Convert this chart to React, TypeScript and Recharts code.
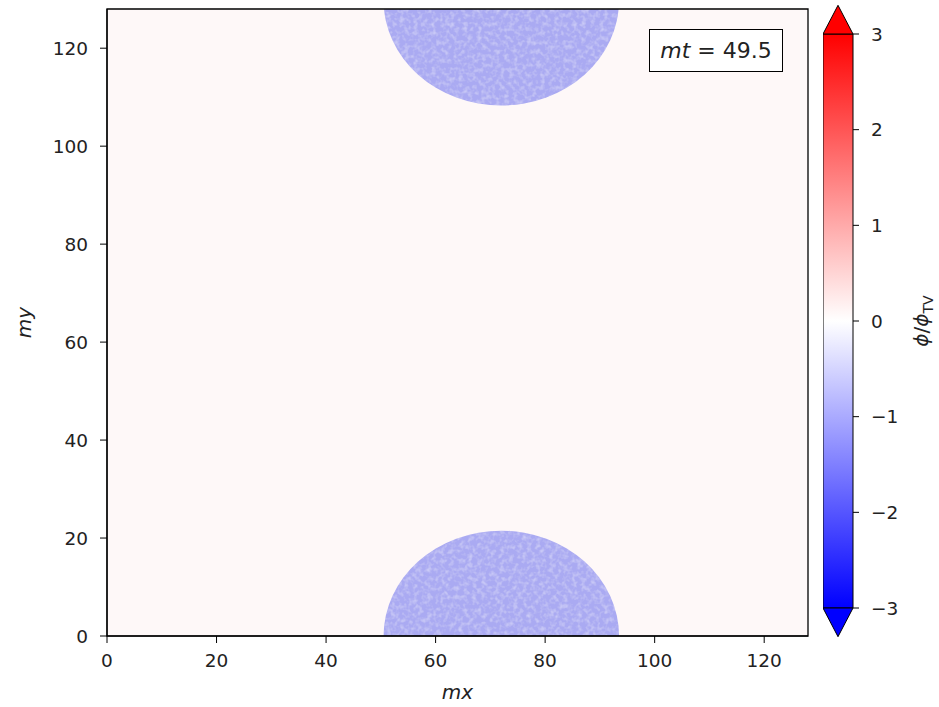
import React from "react";
import {
  ComposedChart,
  XAxis,
  YAxis,
  ReferenceArea,
  Scatter,
} from "recharts";

// ---- data ----
const fieldDomain: [number, number] = [0, 128];
const xTicks = [0, 20, 40, 60, 80, 100, 120];
const yTicks = [0, 20, 40, 60, 80, 100, 120];
const blobs = [
  { name: "top", mx: 72, my: 129.8, r: 21.5, phi: -1 },
  { name: "bottom", mx: 72, my: 0, r: 21.5, phi: -1 },
];
const phiDomain: [number, number] = [-3, 3];
const colorTicks = [-3, -2, -1, 0, 1, 2, 3];
const extendFrac = 0.05;
const timeLabel = "49.5";

// bwr colormap
function bwr(v: number): string {
  const t = Math.max(0, Math.min(1, (v - phiDomain[0]) / (phiDomain[1] - phiDomain[0])));
  let r: number, g: number, b: number;
  if (t < 0.5) {
    const s = t / 0.5;
    r = s; g = s; b = 1;
  } else {
    const s = (t - 0.5) / 0.5;
    r = 1; g = 1 - s; b = 1 - s;
  }
  const h = (x: number) => Math.round(x * 255).toString(16).padStart(2, "0");
  return "#" + h(r) + h(g) + h(b);
}

const FONT = "'DejaVu Sans', sans-serif";
const TXT = "#222";
const BG = "#fef8f8";
const BLOB = "#aaaaf2";

const bgShape = (props: any) => {
  const { x, y, width, height } = props;
  return (
    <g>
      <defs>
        <clipPath id="plotClip">
          <rect x={x} y={y} width={width} height={height} />
        </clipPath>
      </defs>
      <rect x={x} y={y} width={width} height={height} fill={BG} />
    </g>
  );
};

const ellipseShape = (fill: string) => (props: any) => {
  const { x, y, width, height } = props;
  return (
    <g clipPath="url(#plotClip)">
      <ellipse
        cx={x + width / 2}
        cy={y + height / 2}
        rx={Math.abs(width) / 2}
        ry={Math.abs(height) / 2}
        fill={fill}
        filter="url(#grain)"
      />
    </g>
  );
};

const triShape = (fill: string, up: boolean) => (props: any) => {
  const { x, y, width, height } = props;
  const pts = up
    ? `${x},${y + height} ${x + width / 2},${y} ${x + width},${y + height}`
    : `${x},${y} ${x + width / 2},${y + height} ${x + width},${y}`;
  return <polygon points={pts} fill={fill} stroke="#000" strokeWidth={1} />;
};

const cbLabel = (props: any) => {
  const vb = props.viewBox || {};
  const cx = (vb.x ?? 0) + 75;
  const cy = (vb.y ?? 0) + (vb.height ?? 0) / 2;
  return (
    <text
      x={cx}
      y={cy}
      transform={`rotate(-90, ${cx}, ${cy})`}
      textAnchor="middle"
      fontFamily={FONT}
      fontSize={20}
      fill={TXT}
    >
      <tspan fontStyle="italic">ϕ</tspan>
      <tspan>/</tspan>
      <tspan fontStyle="italic">ϕ</tspan>
      <tspan fontSize={14} dy={5}>TV</tspan>
    </text>
  );
};

export default function App() {
  const tickStyle = { fontFamily: FONT, fontSize: 18.5, fill: TXT };
  return (
    <div style={{ position: "absolute", left: 0, top: 0, width: 939, height: 707, background: "#fff" }}>
      <svg width={0} height={0} style={{ position: "absolute" }}>
        <defs>
          <filter id="grain" x="0" y="0" width="100%" height="100%">
            <feTurbulence type="fractalNoise" baseFrequency="0.22" numOctaves={2} seed={3} result="n" />
            <feColorMatrix
              in="n"
              type="matrix"
              values="0 0 0 0 1  0 0 0 0 1  0 0 0 0 1  0 0 0 0.7 -0.3"
              result="w"
            />
            <feComposite in="w" in2="SourceGraphic" operator="in" result="wc" />
            <feMerge>
              <feMergeNode in="SourceGraphic" />
              <feMergeNode in="wc" />
            </feMerge>
          </filter>
        </defs>
      </svg>
      <div style={{ position: "absolute", left: 0, top: 0 }}>
        <ComposedChart
          width={939}
          height={707}
          data={blobs}
          margin={{ top: 9, right: 131, bottom: 0, left: 0 }}
        >
          <XAxis
            dataKey="mx"
            type="number"
            domain={fieldDomain}
            ticks={xTicks}
            allowDataOverflow
            height={71}
            tickSize={7}
            tickMargin={11}
            tick={tickStyle}
            axisLine={{ stroke: "#000", strokeWidth: 1.2 }}
            tickLine={{ stroke: "#000" }}
            label={{
              value: "mx",
              position: "insideBottom",
              offset: 8,
              style: { fontFamily: FONT, fontSize: 20, fontStyle: "italic", fill: TXT },
            }}
          />
          <YAxis
            dataKey="my"
            type="number"
            domain={fieldDomain}
            ticks={yTicks}
            allowDataOverflow
            width={107}
            tickSize={7}
            tickMargin={12}
            tick={tickStyle}
            axisLine={{ stroke: "#000", strokeWidth: 1.2 }}
            tickLine={{ stroke: "#000" }}
            label={{
              value: "my",
              angle: -90,
              position: "insideLeft",
              offset: 24,
              style: { fontFamily: FONT, fontSize: 20, fontStyle: "italic", fill: TXT, textAnchor: "middle" },
            }}
          />
          <ReferenceArea
            x1={fieldDomain[0]}
            x2={fieldDomain[1]}
            y1={fieldDomain[0]}
            y2={fieldDomain[1]}
            ifOverflow="visible"
            shape={bgShape}
          />
          {blobs.map((b) => (
            <ReferenceArea
              key={b.name}
              x1={b.mx - b.r}
              x2={b.mx + b.r}
              y1={b.my - b.r}
              y2={b.my + b.r}
              ifOverflow="visible"
              shape={ellipseShape(BLOB)}
            />
          ))}
          <ReferenceArea
            x1={fieldDomain[0]}
            x2={fieldDomain[1]}
            y1={fieldDomain[0]}
            y2={fieldDomain[1]}
            fill="none"
            stroke="#000"
            strokeWidth={1.3}
            ifOverflow="visible"
          />
          <Scatter dataKey="my" isAnimationActive={false} shape={() => null} />
        </ComposedChart>
      </div>

      <div
        style={{
          position: "absolute",
          left: 649,
          top: 29,
          width: 132,
          height: 41,
          border: "1.6px solid #000",
          background: "#fff",
          fontFamily: FONT,
          fontSize: 22,
          color: TXT,
          display: "flex",
          alignItems: "center",
          justifyContent: "center",
          whiteSpace: "nowrap",
        }}
      >
        <span style={{ fontStyle: "italic" }}>mt</span>
        <span>&nbsp;=&nbsp;{timeLabel}</span>
      </div>

      <div style={{ position: "absolute", left: 823, top: 0 }}>
        <ComposedChart
          width={116}
          height={707}
          data={colorTicks.map((v) => ({ x: 0.5, v }))}
          margin={{ top: 34, right: 0, bottom: 99, left: 0 }}
        >
          <defs>
            <linearGradient id="bwrGrad" x1="0" y1="0" x2="0" y2="1">
              <stop offset="0%" stopColor={bwr(phiDomain[1])} />
              <stop offset="50%" stopColor={bwr(0)} />
              <stop offset="100%" stopColor={bwr(phiDomain[0])} />
            </linearGradient>
          </defs>
          <XAxis dataKey="x" type="number" domain={[0, 1]} hide height={0} />
          <YAxis
            orientation="right"
            type="number"
            dataKey="v"
            domain={phiDomain}
            ticks={colorTicks}
            allowDataOverflow
            width={86}
            tickSize={6}
            tickMargin={12}
            tick={tickStyle}
            tickFormatter={(v: number) => (v < 0 ? "\u2212" + Math.abs(v) : String(v))}
            axisLine={false}
            tickLine={{ stroke: "#000" }}
            label={{ content: cbLabel } as any}
          />
          <ReferenceArea
            x1={0}
            x2={1}
            y1={phiDomain[0]}
            y2={phiDomain[1]}
            fill="url(#bwrGrad)"
            fillOpacity={1}
            stroke="#000"
            strokeWidth={1}
            ifOverflow="visible"
          />
          <ReferenceArea
            x1={0}
            x2={1}
            y1={phiDomain[1]}
            y2={phiDomain[1] + extendFrac * (phiDomain[1] - phiDomain[0])}
            ifOverflow="visible"
            shape={triShape(bwr(phiDomain[1] + 1), true)}
          />
          <ReferenceArea
            x1={0}
            x2={1}
            y1={phiDomain[0] - extendFrac * (phiDomain[1] - phiDomain[0])}
            y2={phiDomain[0]}
            ifOverflow="visible"
            shape={triShape(bwr(phiDomain[0] - 1), false)}
          />
          <Scatter dataKey="v" isAnimationActive={false} shape={() => null} />
        </ComposedChart>
      </div>
    </div>
  );
}
